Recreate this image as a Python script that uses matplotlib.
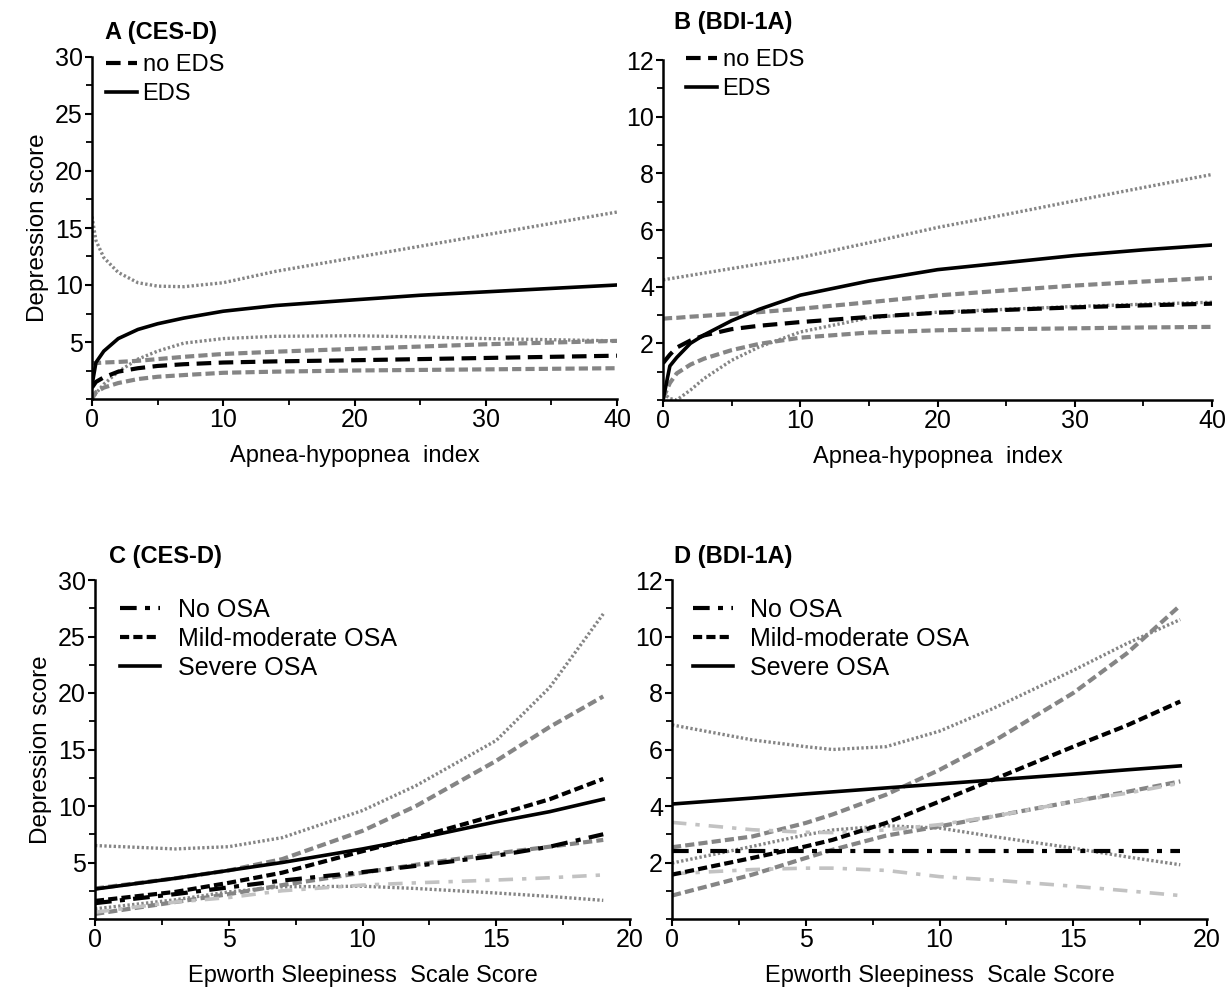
import matplotlib
matplotlib.use("Agg")
import matplotlib.pyplot as plt
from matplotlib.ticker import MultipleLocator, FixedLocator

plt.rcParams['font.family'] = ['Liberation Sans', 'DejaVu Sans']

# ---------------- Panel A (CES-D vs AHI) ----------------
A_x = [0, 0.3, 0.9, 2, 3.5, 5, 7, 10, 14, 20, 25, 30, 35, 40]
A_eds = [1.2, 3.2, 4.2, 5.3, 6.1, 6.6, 7.1, 7.7, 8.2, 8.7, 9.1, 9.4, 9.7, 10.0]
A_eds_hi = [16.0, 13.9, 12.4, 11.1, 10.2, 9.9, 9.85, 10.2, 11.2, 12.4, 13.4, 14.4, 15.4, 16.4]
A_eds_lo = [0.0, 0.5, 1.3, 2.4, 3.5, 4.2, 4.9, 5.3, 5.5, 5.55, 5.45, 5.3, 5.2, 5.1]
A_no = [1.0, 1.5, 1.9, 2.4, 2.7, 2.9, 3.05, 3.2, 3.3, 3.4, 3.5, 3.6, 3.7, 3.8]
A_no_hi = [3.15, 3.15, 3.2, 3.25, 3.35, 3.5, 3.7, 3.95, 4.15, 4.4, 4.6, 4.8, 4.95, 5.1]
A_no_lo = [0.0, 0.6, 1.0, 1.4, 1.75, 1.95, 2.1, 2.3, 2.4, 2.5, 2.55, 2.6, 2.65, 2.7]

# ---------------- Panel B (BDI-1A vs AHI) ----------------
B_x = [0, 0.5, 1, 2, 3, 5, 7, 10, 15, 20, 25, 30, 35, 40]
B_eds = [0.0, 1.2, 1.5, 2.0, 2.3, 2.8, 3.2, 3.7, 4.2, 4.6, 4.85, 5.1, 5.3, 5.47]
B_eds_hi = [4.24, 4.28, 4.32, 4.4, 4.48, 4.64, 4.8, 5.03, 5.55, 6.09, 6.55, 7.03, 7.5, 7.96]
B_eds_lo = [0.25, 0.05, 0.0, 0.35, 0.76, 1.4, 1.87, 2.4, 2.9, 3.1, 3.2, 3.3, 3.38, 3.45]
B_no = [1.3, 1.6, 1.85, 2.1, 2.28, 2.5, 2.62, 2.75, 2.93, 3.08, 3.18, 3.27, 3.34, 3.4]
B_no_hi = [2.87, 2.89, 2.9, 2.94, 2.97, 3.04, 3.1, 3.22, 3.45, 3.69, 3.87, 4.04, 4.18, 4.31]
B_no_lo = [0.05, 0.6, 0.94, 1.25, 1.46, 1.76, 1.98, 2.2, 2.38, 2.46, 2.5, 2.53, 2.56, 2.58]

# ---------------- Panel C (CES-D vs ESS) ----------------
C_x = [0, 3, 5, 7, 10, 12, 15, 17, 19]
C_sev = [2.65, 3.6, 4.3, 5.0, 6.2, 7.1, 8.6, 9.5, 10.6]
C_sev_hi = [6.5, 6.2, 6.4, 7.2, 9.6, 11.8, 15.8, 20.5, 27.0]
C_sev_lo = [0.9, 1.7, 2.4, 2.85, 2.9, 2.7, 2.3, 2.0, 1.65]
C_mild = [1.6, 2.4, 3.2, 4.1, 6.0, 7.2, 9.2, 10.6, 12.4]
C_mild_hi = [2.7, 3.6, 4.3, 5.3, 7.8, 10.0, 14.0, 17.0, 19.7]
C_mild_lo = [0.45, 1.5, 2.2, 3.0, 4.1, 4.8, 5.8, 6.4, 7.0]
C_no = [1.4, 2.2, 2.8, 3.4, 4.15, 4.7, 5.6, 6.4, 7.5]
C_no_lo = [0.6, 1.5, 1.9, 2.5, 3.0, 3.2, 3.45, 3.65, 3.9]

# ---------------- Panel D (BDI-1A vs ESS) ----------------
D_x = [0, 3, 5, 6, 8, 10, 12, 15, 17, 19]
D_sev = [4.07, 4.28, 4.43, 4.5, 4.64, 4.78, 4.92, 5.13, 5.28, 5.42]
D_sev_hi = [6.87, 6.34, 6.1, 6.0, 6.1, 6.65, 7.45, 8.8, 9.75, 10.6]
D_sev_lo = [1.98, 2.57, 2.98, 3.15, 3.3, 3.22, 2.92, 2.51, 2.2, 1.92]
D_mild = [1.57, 2.16, 2.57, 2.8, 3.4, 4.16, 4.93, 6.1, 6.85, 7.7]
D_mild_hi = [2.54, 2.92, 3.4, 3.7, 4.4, 5.28, 6.28, 8.0, 9.4, 11.1]
D_mild_lo = [0.83, 1.57, 2.16, 2.45, 2.95, 3.28, 3.63, 4.16, 4.5, 4.87]
D_no = [2.4, 2.4, 2.4, 2.4, 2.4, 2.4, 2.4, 2.4, 2.4, 2.4]
D_no_hi = [3.42, 3.16, 3.07, 3.06, 3.15, 3.34, 3.63, 4.16, 4.45, 4.81]
D_no_lo = [1.6, 1.75, 1.8, 1.8, 1.72, 1.5, 1.38, 1.16, 1.0, 0.83]

titles = ["A (CES-D)", "B (BDI-1A)", "C (CES-D)", "D (BDI-1A)"]
xlabel_ahi = "Apnea-hypopnea  index"
xlabel_ess = "Epworth Sleepiness  Scale Score"
ylabel = "Depression score"
leg_eds = ["no EDS", "EDS"]
leg_osa = ["No OSA", "Mild-moderate OSA", "Severe OSA"]

# ---------------- styles ----------------
GRAY = '#858585'
LGRAY = '#c2c2c2'
dot = dict(color=GRAY, lw=2.4, ls=(0, (0.7, 0.7)))
gdash = dict(color=GRAY, lw=3.0, ls=(0, (2.2, 1.0)))
ldashdot = dict(color=LGRAY, lw=2.6, ls=(0, (4, 2.5, 1.2, 2.5)))
bsolid = dict(color='black', lw=2.6, ls='-')
bdash = dict(color='black', lw=3.0, ls=(0, (3.5, 1.8)))
bdash2 = dict(color='black', lw=3.0, ls=(0, (2.2, 1.0)))
bdashdot = dict(color='black', lw=3.0, ls=(0, (4, 2, 1.2, 2)))

W, H = 1232, 992
fig = plt.figure(figsize=(W / 100, H / 100), dpi=100)


def add_ax(l, r, t, b):
    return fig.add_axes([l / W, 1 - b / H, (r - l) / W, (b - t) / H])


axA = add_ax(92, 617, 57, 399)
axB = add_ax(663, 1212, 60, 400)
axC = add_ax(95, 630, 580, 919)
axD = add_ax(672, 1207, 580, 919)

TICKFS = 18
LABFS = 17


def style(ax, xmax, xmaj, xmin, ymax, ymaj, ymin, xlabel, title, show_ylabel, tx, ty):
    ax.set_xlim(0, xmax)
    ax.set_ylim(0, ymax)
    for s in ['top', 'right']:
        ax.spines[s].set_visible(False)
    for s in ['left', 'bottom']:
        ax.spines[s].set_linewidth(1.8)
    ax.xaxis.set_major_locator(MultipleLocator(xmaj))
    ax.xaxis.set_minor_locator(MultipleLocator(xmin))
    ax.yaxis.set_major_locator(FixedLocator([v for v in range(ymaj, ymax + 1, ymaj)]))
    ax.yaxis.set_minor_locator(MultipleLocator(ymin))
    ax.tick_params(which='major', direction='out', length=5, width=1.5, labelsize=TICKFS, pad=1.5)
    ax.tick_params(which='minor', direction='out', length=4, width=1.3)
    ax.set_xlabel(xlabel, fontsize=LABFS, labelpad=9)
    if show_ylabel:
        ax.set_ylabel(ylabel, fontsize=LABFS + 0.5, labelpad=4)
    fig.text(tx / W, 1 - ty / H, title, fontsize=17, fontweight='bold',
             ha='left', va='center')


def legend(ax, handles, labels, x_px, y_px, fs, hl, htp, ls):
    # anchor given in figure pixels (top-left of legend box)
    ax.legend(handles, labels, loc='upper left',
              bbox_to_anchor=(x_px / W, 1 - y_px / H), bbox_transform=fig.transFigure,
              frameon=False, fontsize=fs, handlelength=hl, handletextpad=htp,
              labelspacing=ls, borderaxespad=0, borderpad=0)


# Panel A
axA.plot(A_x, A_eds_hi, **dot)
axA.plot(A_x, A_eds_lo, **dot)
axA.plot(A_x, A_no_hi, **gdash)
axA.plot(A_x, A_no_lo, **gdash)
lA1, = axA.plot(A_x, A_no, **bdash)
lA2, = axA.plot(A_x, A_eds, **bsolid)
style(axA, 40, 10, 5, 30, 5, 2.5, xlabel_ahi, titles[0], True, 105, 32)
legend(axA, [lA1, lA2], leg_eds, 106, 54, 17, 1.3, 0.25, 0.3)

# Panel B
axB.plot(B_x, B_eds_hi, **dot)
axB.plot(B_x, B_eds_lo, **dot)
axB.plot(B_x, B_no_hi, **gdash)
axB.plot(B_x, B_no_lo, **gdash)
lB1, = axB.plot(B_x, B_no, **bdash)
lB2, = axB.plot(B_x, B_eds, **bsolid)
style(axB, 40, 10, 5, 12, 2, 1, xlabel_ahi, titles[1], False, 674, 23)
legend(axB, [lB1, lB2], leg_eds, 686, 49, 17, 1.3, 0.25, 0.3)

# Panel C
axC.plot(C_x, C_sev_hi, **dot)
axC.plot(C_x, C_sev_lo, **dot)
axC.plot(C_x, C_mild_hi, **gdash)
axC.plot(C_x, C_mild_lo, **gdash)
axC.plot(C_x, C_no_lo, **ldashdot)
lC1, = axC.plot(C_x, C_no, **bdashdot)
lC2, = axC.plot(C_x, C_mild, **bdash2)
lC3, = axC.plot(C_x, C_sev, **bsolid)
style(axC, 20, 5, 2.5, 30, 5, 2.5, xlabel_ess, titles[2], True, 109, 557)
legend(axC, [lC1, lC2, lC3], leg_osa, 120, 598, 18, 1.6, 0.7, 0.2)

# Panel D
axD.plot(D_x, D_sev_hi, **dot)
axD.plot(D_x, D_sev_lo, **dot)
axD.plot(D_x, D_mild_hi, **gdash)
axD.plot(D_x, D_mild_lo, **gdash)
axD.plot(D_x, D_no_hi, **ldashdot)
axD.plot(D_x, D_no_lo, **ldashdot)
lD1, = axD.plot(D_x, D_no, **bdashdot)
lD2, = axD.plot(D_x, D_mild, **bdash2)
lD3, = axD.plot(D_x, D_sev, **bsolid)
style(axD, 20, 5, 2.5, 12, 2, 1, xlabel_ess, titles[3], False, 674, 557)
legend(axD, [lD1, lD2, lD3], leg_osa, 693, 598, 18, 1.6, 0.7, 0.2)

fig.savefig("out.png", dpi=100)
